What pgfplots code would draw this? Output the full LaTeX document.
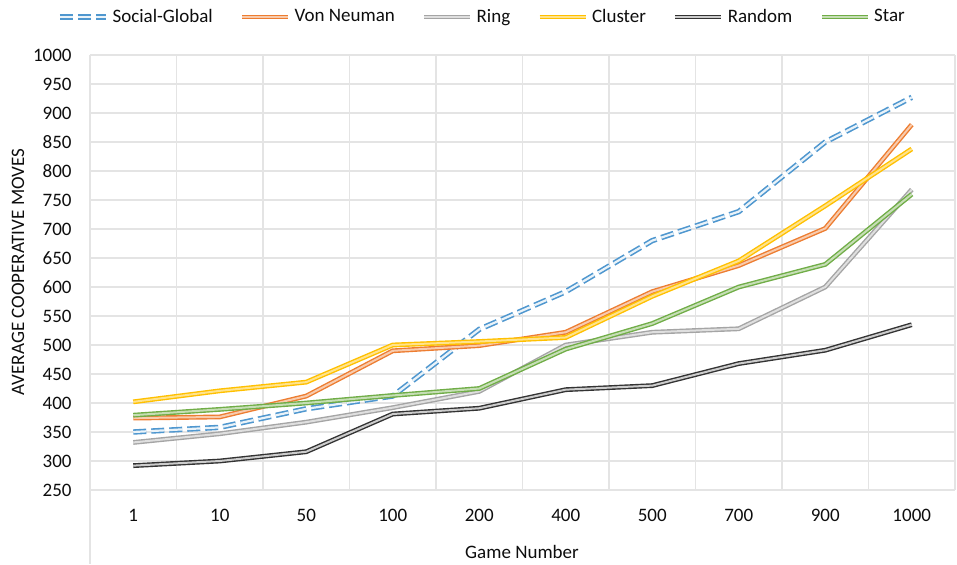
\documentclass[border=0pt]{standalone}
\usepackage{fontspec}
\setmainfont{Carlito}
\usepackage{pgfplots}
\pgfplotsset{compat=1.18}

\definecolor{cSocial}{HTML}{4F97CF}
\definecolor{cVon}{HTML}{ED7D31}
\definecolor{cRing}{HTML}{A5A5A5}
\definecolor{cCluster}{HTML}{FFC000}
\definecolor{cRandom}{HTML}{333333}
\definecolor{cStar}{HTML}{70AD47}
\definecolor{gridcol}{HTML}{E4E4E4}
\definecolor{txt}{HTML}{0D0D0D}

% compound (double) line used for every series
\tikzset{dbl/.style 2 args={draw=#1, line width=0.7pt, double=#2, double distance=1.0pt}}

\begin{document}
\fontsize{9.5}{11}\selectfont
\begin{tikzpicture}
\useasboundingbox (-45pt,-37pt) rectangle (433.5pt,245pt);
\begin{axis}[
  scale only axis,
  width=432.5pt, height=217.5pt,
  xmin=-0.5, xmax=9.5, ymin=250, ymax=1000,
  xtick={0,...,9},
  xticklabels={1,10,50,100,200,400,500,700,900,1000},
  minor xtick={-0.5,0.5,...,9.5},
  ytick={250,300,...,1000},
  major tick length=0pt, minor tick length=0pt,
  ymajorgrids, xminorgrids, xmajorgrids=false,
  grid style={gridcol, line width=0.6pt},
  minor grid style={gridcol, line width=0.6pt},
  axis line style={draw=none},
  /pgf/number format/assume math mode=true,
  /pgf/number format/1000 sep={},
  tick label style={font=\fontsize{9.5}{11}\selectfont, text=txt},
  xticklabel style={anchor=center, yshift=-12.5pt},
  yticklabel style={anchor=east, inner sep=0pt, xshift=-9pt},
  xlabel={Game Number},
  ylabel={AVERAGE COOPERATIVE MOVES},
  label style={font=\fontsize{9.5}{11}\selectfont, text=txt},
  xlabel style={at={(axis description cs:0.4994,-0.1418)}, anchor=center},
  ylabel style={at={(axis description cs:-0.0832,0.501)}, anchor=center, rotate=0},
  clip=false,
  legend columns=6,
  legend cell align=left,
  legend style={at={(0.4543,1.0874)}, anchor=center, draw=none, fill=none,
    font=\fontsize{9.5}{11}\selectfont, text=txt,
    /tikz/every even column/.append style={column sep=11.5pt}},
  legend image code/.code={\draw[#1] (0pt,0pt) -- (23pt,0pt);},
]
\draw[gridcol, line width=0.6pt] (axis cs:-0.5,1000) -- (axis cs:-0.5,122);

\addplot[dbl={cSocial}{cSocial!12!white}, line width=0.8pt, double distance=1.1pt,
  dash pattern=on 6.5pt off 2.5pt] coordinates {
  (0,350) (1,358) (2,390) (3,412) (4,527) (5,592) (6,680) (7,730) (8,850) (9,927)};
\addlegendentry{Social-Global}

\addplot[dbl={cVon}{cVon!40!white}] coordinates {
  (0,374) (1,376) (2,412) (3,490) (4,499) (5,522) (6,592) (7,637) (8,701) (9,880)};
\addlegendentry{Von Neuman}

\addplot[dbl={cRing}{cRing!35!white}] coordinates {
  (0,332) (1,347) (2,367) (3,392) (4,420) (5,500) (6,522) (7,528) (8,600) (9,768)};
\addlegendentry{Ring}

\addplot[dbl={cCluster}{cCluster!45!white}] coordinates {
  (0,402) (1,421) (2,436) (3,500) (4,506) (5,513) (6,584) (7,645) (8,740) (9,838)};
\addlegendentry{Cluster}

\addplot[dbl={cRandom}{cRandom!25!white}] coordinates {
  (0,292) (1,300) (2,316) (3,381) (4,391) (5,423) (6,430) (7,468) (8,491) (9,535)};
\addlegendentry{Random}

\addplot[dbl={cStar}{cStar!40!white}] coordinates {
  (0,379) (1,389) (2,400) (3,413) (4,425) (5,493) (6,537) (7,600) (8,639) (9,760)};
\addlegendentry{Star}
\end{axis}
\end{tikzpicture}
\end{document}
